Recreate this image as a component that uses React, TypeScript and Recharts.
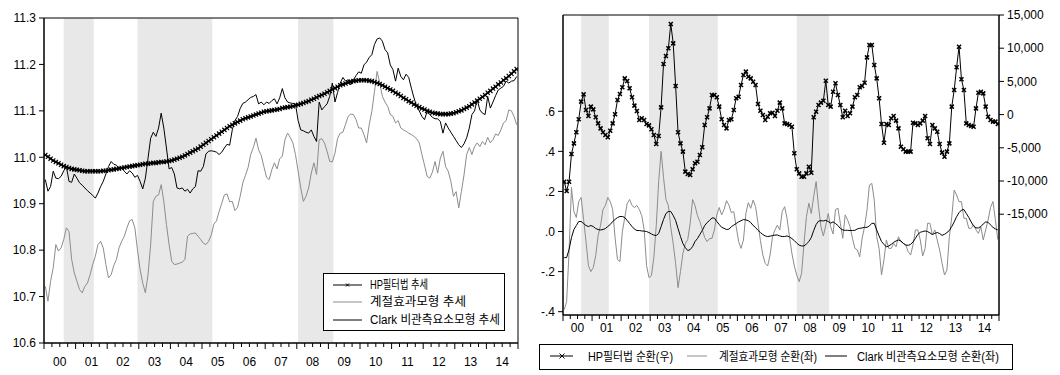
import React from 'react';
import { ComposedChart, Line, XAxis, YAxis, ReferenceArea, Legend } from 'recharts';

// 월별 자료 2000.01 ~ 2014.12 (180개월), 연도 라벨
const yearLabels = ['00', '01', '02', '03', '04', '05', '06', '07', '08', '09', '10', '11', '12', '13', '14'];

// 경기 수축기 (정점월, 저점월 index: 2000.01 = 0)
const recessions: [number, number][] = [[7, 18], [35, 63], [96, 109]];

const trendTicks = [10.6, 10.7, 10.8, 10.9, 11.0, 11.1, 11.2, 11.3];
const cycleTicksLeft = [-0.4, -0.2, 0, 0.2, 0.4, 0.6];
const cycleTicksRight = [-15000, -10000, -5000, 0, 5000, 10000, 15000];

// 추세 (좌측 그림)
const hpTrend = [
  11.005, 11.001, 10.997, 10.993, 10.990, 10.987, 10.984, 10.981, 10.979, 10.977, 10.975, 10.974,
  10.973, 10.972, 10.971, 10.970, 10.970, 10.970, 10.970, 10.970, 10.970, 10.970, 10.971, 10.971,
  10.972, 10.973, 10.974, 10.975, 10.976, 10.977, 10.978, 10.979, 10.980, 10.981, 10.982, 10.983,
  10.984, 10.985, 10.986, 10.986, 10.987, 10.988, 10.988, 10.989, 10.990, 10.990, 10.991, 10.992,
  10.993, 10.995, 10.997, 10.999, 11.001, 11.004, 11.007, 11.010, 11.013, 11.016, 11.019, 11.023,
  11.027, 11.031, 11.035, 11.039, 11.043, 11.047, 11.051, 11.055, 11.059, 11.063, 11.067, 11.070,
  11.073, 11.076, 11.079, 11.082, 11.084, 11.086, 11.088, 11.090, 11.092, 11.094, 11.096, 11.098,
  11.099, 11.100, 11.101, 11.102, 11.103, 11.104, 11.106, 11.107, 11.108, 11.109, 11.110, 11.112,
  11.113, 11.115, 11.117, 11.119, 11.121, 11.124, 11.126, 11.129, 11.132, 11.134, 11.137, 11.140,
  11.143, 11.146, 11.149, 11.152, 11.155, 11.157, 11.159, 11.161, 11.163, 11.164, 11.165, 11.166,
  11.166, 11.166, 11.166, 11.165, 11.164, 11.162, 11.160, 11.158, 11.155, 11.152, 11.149, 11.146,
  11.143, 11.139, 11.136, 11.132, 11.128, 11.125, 11.121, 11.118, 11.114, 11.111, 11.108, 11.105,
  11.103, 11.100, 11.098, 11.096, 11.095, 11.094, 11.093, 11.093, 11.093, 11.093, 11.094, 11.095,
  11.097, 11.099, 11.101, 11.104, 11.107, 11.110, 11.114, 11.118, 11.122, 11.126, 11.130, 11.134,
  11.139, 11.143, 11.148, 11.152, 11.157, 11.161, 11.166, 11.170, 11.175, 11.180, 11.185, 11.190,
];

const seasonalTrend = [
  10.722, 10.690, 10.733, 10.762, 10.812, 10.798, 10.805, 10.823, 10.848, 10.840, 10.780, 10.751,
  10.733, 10.715, 10.708, 10.722, 10.729, 10.747, 10.769, 10.787, 10.812, 10.819, 10.805, 10.769,
  10.740, 10.747, 10.767, 10.780, 10.805, 10.819, 10.830, 10.848, 10.863, 10.866, 10.848, 10.801,
  10.758, 10.729, 10.708, 10.747, 10.812, 10.905, 10.916, 10.919, 10.941, 10.905, 10.855, 10.812,
  10.776, 10.769, 10.770, 10.772, 10.774, 10.780, 10.830, 10.835, 10.836, 10.837, 10.830, 10.823,
  10.815, 10.812, 10.819, 10.832, 10.856, 10.863, 10.883, 10.901, 10.919, 10.921, 10.904, 10.905,
  10.885, 10.892, 10.916, 10.945, 10.961, 10.978, 11.006, 11.021, 11.041, 11.016, 11.004, 10.980,
  10.957, 10.952, 10.973, 10.988, 10.975, 10.997, 11.002, 11.038, 11.052, 11.043, 11.031, 11.006,
  10.970, 10.934, 10.905, 10.916, 10.934, 10.966, 10.988, 10.963, 11.038, 11.040, 11.031, 11.013,
  10.991, 10.990, 11.009, 11.041, 11.052, 11.054, 11.071, 11.088, 11.093, 11.092, 11.081, 11.063,
  11.063, 11.049, 11.031, 11.070, 11.099, 11.142, 11.185, 11.160, 11.131, 11.119, 11.110, 11.092,
  11.088, 11.074, 11.079, 11.063, 11.059, 11.056, 11.052, 11.049, 11.045, 11.040, 11.031, 11.006,
  10.983, 10.959, 10.955, 10.968, 10.991, 10.966, 10.998, 11.013, 10.980, 10.970, 10.948, 10.916,
  10.926, 10.891, 10.926, 10.962, 11.006, 11.021, 11.006, 11.023, 11.031, 11.023, 11.034, 11.027,
  11.043, 11.031, 11.038, 11.050, 11.047, 11.059, 11.074, 11.079, 11.102, 11.100, 11.088, 11.070,
];

const clarkTrend = [
  10.952, 10.927, 10.937, 10.970, 10.955, 10.954, 10.959, 10.971, 10.980, 10.948, 10.946, 10.964,
  10.955, 10.945, 10.940, 10.934, 10.928, 10.923, 10.918, 10.912, 10.923, 10.937, 10.948, 10.964,
  10.980, 10.991, 10.985, 10.983, 10.977, 10.978, 10.970, 10.964, 10.971, 10.966, 10.957, 10.961,
  10.948, 10.932, 10.955, 10.998, 11.041, 11.054, 11.045, 11.063, 11.095, 11.063, 11.020, 10.975,
  10.978, 10.964, 10.934, 10.932, 10.934, 10.927, 10.931, 10.923, 10.932, 10.937, 10.971, 10.970,
  10.980, 11.007, 11.013, 11.014, 11.013, 11.011, 11.006, 11.011, 11.020, 11.028, 11.026, 11.059,
  11.079, 11.088, 11.105, 11.116, 11.119, 11.124, 11.129, 11.131, 11.135, 11.115, 11.119, 11.113,
  11.119, 11.116, 11.122, 11.126, 11.115, 11.128, 11.148, 11.128, 11.119, 11.117, 11.116, 11.115,
  11.079, 11.059, 11.057, 11.054, 11.052, 11.059, 11.045, 11.034, 11.119, 11.102, 11.109, 11.115,
  11.131, 11.160, 11.119, 11.140, 11.160, 11.172, 11.164, 11.167, 11.156, 11.167, 11.176, 11.184,
  11.181, 11.199, 11.205, 11.215, 11.221, 11.243, 11.255, 11.257, 11.250, 11.232, 11.225, 11.199,
  11.189, 11.164, 11.192, 11.174, 11.167, 11.179, 11.172, 11.149, 11.128, 11.110, 11.100, 11.088,
  11.081, 11.099, 11.092, 11.086, 11.083, 11.083, 11.077, 11.052, 11.074, 11.063, 11.054, 11.045,
  11.036, 11.027, 11.021, 11.029, 11.042, 11.063, 11.092, 11.100, 11.124, 11.102, 11.095, 11.092,
  11.131, 11.106, 11.119, 11.133, 11.145, 11.149, 11.153, 11.164, 11.160, 11.164, 11.165, 11.174,
];

// 순환 (우측 그림): HP는 우축(원), 나머지는 좌축
const hpCycle = [
  -10100, -11500, -10100, -5930, -4330, -2670, -710, 1950, 3050, 690, -210, 1200,
  790, -410, -1320, -2070, -2670, -3070, -3420, -2420, -1320, 40, 2200, 3100,
  4110, 5460, 5060, 3960, 2600, 1350, 540, -810, -560, -810, -1420, -1620,
  -2220, -3070, -4430, -3220, 1090, 7620, 8830, 9980, 13650, 10730, 4310, -2670,
  -4330, -5580, -8590, -8950, -9100, -8240, -7340, -7090, -6080, -4930, -1570, -410,
  940, 2950, 2950, 2600, 1200, -710, -1570, -2070, -810, -710, 690, 2450,
  2700, 4460, 5960, 6470, 5710, 5460, 4960, 4460, 1600, 590, -60, -810,
  -310, 190, 290, -210, 590, 1800, 940, -1320, -1420, -1570, -1820, -5830,
  -8240, -8850, -9350, -9350, -8850, -7840, -8750, -410, 440, 1450, 1800, 2100,
  5110, 1450, 1200, 3450, 4710, 2950, 1450, -410, 590, -210, 190, 1200,
  2600, 2950, 4110, 4310, 4810, 8620, 10480, 10480, 7470, 5460, 2450, -1420,
  -4230, -1420, -1570, -560, -210, -910, -2070, -4830, -5230, -5580, -5580, -5580,
  -1220, -1320, -1570, -1320, -910, -210, -3570, -4430, -1570, -2070, -2570, -4430,
  -5730, -6340, -5580, -4330, 1200, 3710, 7120, 10230, 5310, 3710, -1320, -1570,
  -1720, -1820, 940, 3300, 3450, 3200, 1200, -310, -810, -1060, -1060, -1420,
];

const seasonalCycle = [
  -0.39, -0.35, -0.10, 0.22, 0.10, 0.07, 0.15, 0.17, 0.06, -0.05, -0.17, -0.20,
  -0.18, -0.12, -0.02, 0.03, 0.11, 0.13, 0.17, 0.15, 0.11, -0.03, -0.14, -0.15,
  0.00, 0.07, 0.14, 0.16, 0.13, 0.12, 0.13, 0.11, 0.08, 0.01, -0.17, -0.23,
  -0.22, -0.13, 0.03, 0.25, 0.40, 0.27, 0.16, 0.13, 0.02, -0.06, -0.16, -0.28,
  -0.20, -0.11, -0.06, -0.04, 0.04, 0.16, 0.13, 0.08, 0.05, 0.01, -0.03, -0.05,
  -0.035, -0.034, 0.008, 0.083, 0.12, 0.083, 0.11, 0.154, 0.132, 0.094, 0.10, 0.024,
  -0.05, -0.084, -0.042, 0.09, 0.144, 0.116, 0.157, 0.124, 0.041, -0.046, -0.117, -0.159,
  -0.172, -0.117, -0.026, 0.008, 0.032, 0.008, 0.10, 0.124, 0.066, -0.026, -0.109, -0.172,
  -0.217, -0.25, -0.209, -0.059, 0.074, 0.141, 0.09, 0.174, 0.249, 0.124, 0.024, -0.022,
  0.032, 0.09, 0.024, -0.012, 0.11, 0.116, 0.041, -0.034, 0.083, 0.058, 0.024, -0.034,
  -0.084, -0.092, -0.126, -0.034, 0.024, 0.107, 0.232, 0.24, 0.157, -0.026, -0.084, -0.217,
  -0.142, -0.042, -0.084, -0.084, -0.059, -0.076, -0.026, -0.051, -0.059, -0.067, -0.10, -0.117,
  -0.067, 0.008, 0.008, -0.042, -0.122, -0.084, 0.041, 0.041, -0.017, 0.008, -0.042, -0.092,
  -0.159, -0.217, -0.192, -0.026, 0.074, 0.207, 0.182, 0.149, 0.149, 0.066, 0.066, 0.016,
  0.016, 0.033, 0.008, -0.009, 0.024, -0.042, 0.008, 0.058, 0.12, 0.15, 0.06, -0.04,
];

const clarkCycle = [
  -0.13, -0.13, -0.09, -0.03, 0.01, 0.03, 0.05, 0.05, 0.04, 0.03, 0.025, 0.03,
  0.025, 0.015, 0.01, 0.008, 0.01, 0.015, 0.025, 0.035, 0.05, 0.06, 0.07, 0.075,
  0.075, 0.07, 0.055, 0.04, 0.025, 0.012, 0.005, 0.005, 0.003, 0.002, 0.0, -0.005,
  -0.012, -0.018, -0.02, -0.01, 0.025, 0.06, 0.09, 0.10, 0.10, 0.08, 0.055, 0.015,
  -0.025, -0.06, -0.08, -0.095, -0.09, -0.075, -0.05, -0.035, -0.015, 0.005, 0.03, 0.045,
  0.055, 0.068, 0.067, 0.05, 0.035, 0.021, 0.016, 0.01, 0.012, 0.024, 0.032, 0.04,
  0.048, 0.054, 0.06, 0.058, 0.054, 0.045, 0.03, 0.02, 0.006, -0.005, -0.015, -0.022,
  -0.025, -0.023, -0.02, -0.018, -0.017, -0.022, -0.025, -0.025, -0.022, -0.027, -0.035, -0.045,
  -0.058, -0.068, -0.072, -0.072, -0.062, -0.05, -0.03, 0.005, 0.035, 0.052, 0.054, 0.053,
  0.056, 0.05, 0.042, 0.048, 0.04, 0.03, 0.015, 0.008, 0.006, 0.006, 0.005, 0.005,
  0.006, 0.013, 0.016, 0.018, 0.021, 0.021, 0.028, 0.041, 0.041, 0.008, -0.022, -0.05,
  -0.064, -0.077, -0.072, -0.064, -0.054, -0.047, -0.042, -0.047, -0.059, -0.067, -0.069, -0.064,
  -0.052, -0.034, -0.014, -0.004, 0.0, 0.003, 0.0, -0.007, -0.015, -0.009, -0.005, -0.01,
  -0.019, -0.014, -0.005, 0.005, 0.025, 0.048, 0.074, 0.094, 0.107, 0.11, 0.09, 0.071,
  0.048, 0.028, 0.018, 0.018, 0.025, 0.038, 0.048, 0.046, 0.033, 0.021, 0.013, 0.008,
];

const FONT = 'Arial, "Liberation Sans", "Noto Sans CJK KR", sans-serif';
const GRAY = '#8c8c8c';
const SHADE = '#e8e8e8';

const trendRows = hpTrend.map((v, i) => ({ t: i, hp: v, seasonal: seasonalTrend[i], clark: clarkTrend[i] }));
const cycleRows = hpCycle.map((v, i) => ({ t: i, hp: v, seasonal: seasonalCycle[i], clark: clarkCycle[i] }));

// 분기 경계 눈금 (연도 경계는 길게, 연중앙에 라벨)
const quarterTicks = Array.from({ length: 61 }, (_, q) => q * 3 - 0.5);

function timeTick(labelGap: number) {
  return (props: any) => {
    const { x, y, payload } = props;
    const pos = Math.round(payload.value + 0.5);
    const yearEdge = pos % 12 === 0;
    const midYear = pos % 12 === 6;
    return (
      <g>
        <line x1={x} x2={x} y1={y} y2={y + (yearEdge ? 6 : 4)} stroke="#000" />
        {midYear && (
          <text x={x} y={y + labelGap} textAnchor="middle" fontSize={12} fill="#000">
            {yearLabels[(pos - 6) / 12]}
          </text>
        )}
      </g>
    );
  };
}

function cross(size: number, width: number) {
  return (props: any) => {
    const { cx, cy, index } = props;
    if (cx == null || cy == null) return <g key={`c${index}`} />;
    const d = `M${cx - size},${cy - size}L${cx + size},${cy + size}M${cx - size},${cy + size}L${cx + size},${cy - size}`;
    return <path key={`c${index}`} d={d} stroke="#000" strokeWidth={width} fill="none" />;
  };
}

const fmtCycle = (v: number) => v.toFixed(1).replace(/^(-?)0\./, '$1.');

function TrendLegend() {
  return (
    <svg width={182} height={58} style={{ display: 'block' }}>
      <rect x={0.5} y={0.5} width={181} height={57} fill="#fff" stroke="#000" />
      <line x1={10} x2={39} y1={12} y2={12} stroke="#000" />
      <path d="M23,10.5L26,13.5M23,13.5L26,10.5" stroke="#000" />
      <text x={47} y={16} fontSize={12} textLength={58} lengthAdjust="spacingAndGlyphs">HP필터법 추세</text>
      <line x1={10} x2={39} y1={29} y2={29} stroke={GRAY} />
      <text x={47} y={33} fontSize={12} textLength={96} lengthAdjust="spacingAndGlyphs">계절효과모형 추세</text>
      <line x1={10} x2={39} y1={47} y2={47} stroke="#000" />
      <text x={47} y={51} fontSize={12} textLength={130} lengthAdjust="spacingAndGlyphs">Clark 비관측요소모형 추세</text>
    </svg>
  );
}

function CycleLegend() {
  return (
    <svg width={474} height={26} style={{ display: 'block' }}>
      <rect x={0.5} y={0.5} width={473} height={25} fill="#fff" stroke="#000" />
      <line x1={11} x2={34} y1={12} y2={12} stroke="#000" />
      <path d="M20.5,9.5L25.5,14.5M20.5,14.5L25.5,9.5" stroke="#000" />
      <text x={49} y={16.5} fontSize={12} textLength={85} lengthAdjust="spacingAndGlyphs">HP필터법 순환(우)</text>
      <line x1={148} x2={168} y1={12} y2={12} stroke={GRAY} />
      <text x={180} y={16.5} fontSize={12} textLength={98} lengthAdjust="spacingAndGlyphs">계절효과모형 순환(좌)</text>
      <line x1={286} x2={308} y1={12} y2={12} stroke="#000" />
      <text x={318} y={16.5} fontSize={12} textLength={142} lengthAdjust="spacingAndGlyphs">Clark 비관측요소모형 순환(좌)</text>
    </svg>
  );
}

export default function App() {
  return (
    <div style={{ position: 'absolute', left: 0, top: 0, width: 1060, height: 375, background: '#fff', fontFamily: FONT }}>
      <div style={{ position: 'absolute', left: 0, top: 0 }}>
        <ComposedChart width={530} height={375} data={trendRows} margin={{ top: 18, right: 12, bottom: 0, left: 0 }}>
          <XAxis
            dataKey="t" type="number" domain={[-0.5, 179.5]} ticks={quarterTicks} interval={0}
            tickLine={false} tickSize={0} tickMargin={0} tick={timeTick(23)} height={32}
            axisLine={{ stroke: '#000' }} allowDataOverflow
          />
          <YAxis
            type="number" domain={[10.6, 11.3]} ticks={trendTicks} interval={0} width={44}
            tickSize={5} tickMargin={3} tickFormatter={(v: number) => v.toFixed(1)}
            tick={{ fontSize: 12, fill: '#000' }} axisLine={{ stroke: '#000' }} tickLine={{ stroke: '#000' }}
            allowDataOverflow
          />
          {recessions.map(([s, e]) => (
            <ReferenceArea key={s} x1={s} x2={e + 0.4} fill={SHADE} fillOpacity={1} stroke="none" />
          ))}
          <Line type="linear" dataKey="seasonal" stroke={GRAY} strokeWidth={1} dot={false} isAnimationActive={false} />
          <Line type="linear" dataKey="clark" stroke="#000" strokeWidth={1} dot={false} isAnimationActive={false} />
          <Line type="linear" dataKey="hp" stroke="#000" strokeWidth={1.6} dot={cross(2.1, 1.2)} isAnimationActive={false} />
          <ReferenceArea x1={-0.5} x2={179.5} fill="none" stroke="#000" />
          <Legend
            layout="vertical" align="center" verticalAlign="middle"
            content={() => <TrendLegend />}
            wrapperStyle={{ left: 323, top: 273, width: 182, height: 58 }}
          />
        </ComposedChart>
      </div>
      <div style={{ position: 'absolute', left: 530, top: 0 }}>
        <ComposedChart width={530} height={375} data={cycleRows} margin={{ top: 15, right: 6, bottom: 30, left: 0 }}>
          <XAxis
            dataKey="t" type="number" domain={[-0.5, 179.5]} ticks={quarterTicks} interval={0}
            tickLine={false} tickSize={0} tickMargin={0} tick={timeTick(16.5)} height={30}
            axisLine={{ stroke: '#000' }} allowDataOverflow
          />
          <YAxis
            yAxisId="l" type="number" domain={[-0.4165, 1.0805]} ticks={cycleTicksLeft} interval={0} width={33}
            tickSize={5} tickMargin={3} tickFormatter={fmtCycle}
            tick={{ fontSize: 12, fill: '#000' }} axisLine={{ stroke: '#000' }} tickLine={{ stroke: '#000' }}
            allowDataOverflow
          />
          <YAxis
            yAxisId="r" orientation="right" type="number" domain={[-30180, 15000]} ticks={cycleTicksRight}
            interval={0} width={55} tickSize={5} tickMargin={3}
            tickFormatter={(v: number) => v.toLocaleString('en-US')}
            tick={{ fontSize: 12, fill: '#000' }} axisLine={{ stroke: '#000' }} tickLine={{ stroke: '#000' }}
            allowDataOverflow
          />
          {recessions.map(([s, e]) => (
            <ReferenceArea key={s} yAxisId="l" x1={s} x2={e + 0.4} fill={SHADE} fillOpacity={1} stroke="none" />
          ))}
          <Line yAxisId="l" type="linear" dataKey="seasonal" stroke={GRAY} strokeWidth={1} dot={false} isAnimationActive={false} />
          <Line yAxisId="l" type="linear" dataKey="clark" stroke="#000" strokeWidth={1} dot={false} isAnimationActive={false} />
          <Line yAxisId="r" type="linear" dataKey="hp" stroke="#000" strokeWidth={1} dot={cross(2, 1.5)} isAnimationActive={false} />
          <ReferenceArea yAxisId="l" x1={-0.5} x2={179.5} fill="none" stroke="#000" />
          <Legend
            layout="vertical" align="center" verticalAlign="middle"
            content={() => <CycleLegend />}
            wrapperStyle={{ left: 9, top: 344, width: 474, height: 26 }}
          />
        </ComposedChart>
      </div>
    </div>
  );
}
